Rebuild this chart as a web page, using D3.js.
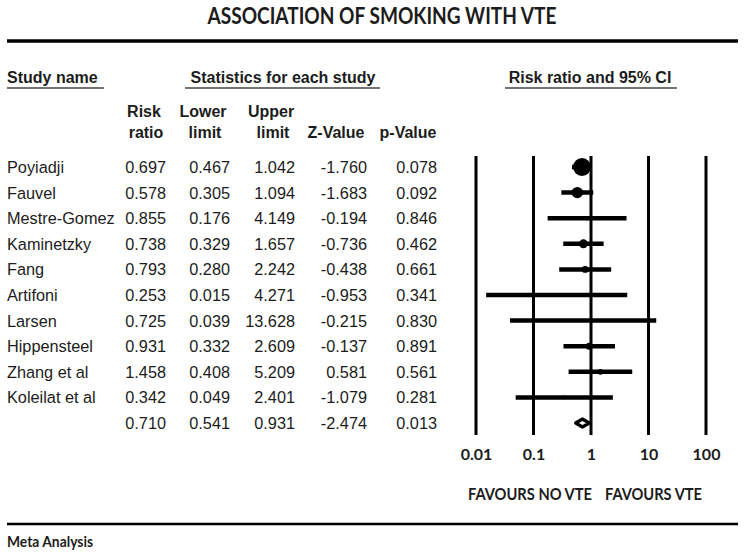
<!DOCTYPE html>
<html><head><meta charset="utf-8">
<script src="https://cdn.jsdelivr.net/npm/d3@7"></script>
<style>body{margin:0;background:#fff}svg{display:block}</style>
</head><body><svg id="c" width="748" height="556"></svg>
<script>
const studies = ["Poyiadji","Fauvel","Mestre-Gomez","Kaminetzky","Fang","Artifoni","Larsen","Hippensteel","Zhang et al","Koleilat et al",""];
const riskRatio = [0.697,0.578,0.855,0.738,0.793,0.253,0.725,0.931,1.458,0.342,0.710];
const lowerLimit = [0.467,0.305,0.176,0.329,0.280,0.015,0.039,0.332,0.408,0.049,0.541];
const upperLimit = [1.042,1.094,4.149,1.657,2.242,4.271,13.628,2.609,5.209,2.401,0.931];
const zValue = [-1.760,-1.683,-0.194,-0.736,-0.438,-0.953,-0.215,-0.137,0.581,-1.079,-2.474];
const pValue = [0.078,0.092,0.846,0.462,0.661,0.341,0.830,0.891,0.561,0.281,0.013];
const weights = [23.8,9.4,1.5,5.9,3.5,0.5,0.4,3.6,2.4,1.0];
const axisTicks = [0.01,0.1,1,10,100];
const axisTickLabels = ["0.01","0.1","1","10","100"];
const colHeaderTop = ["Risk","Lower","Upper","",""];
const colHeaderBottom = ["ratio","limit","limit","Z-Value","p-Value"];

const svg = d3.select("#c");
const ink = "#1c1c1c";
const headFont = "'Liberation Sans', Arial, sans-serif";
const calFont = "Lato, 'Open Sans', sans-serif";

// Title + rules
svg.append("text").attr("x",382).attr("y",24).attr("text-anchor","middle")
  .attr("font-family",calFont).attr("font-weight",700).attr("font-size",23)
  .attr("textLength",349).attr("lengthAdjust","spacingAndGlyphs")
  .attr("fill",ink).text("ASSOCIATION OF SMOKING WITH VTE");
svg.append("line").attr("x1",7).attr("x2",738).attr("y1",41).attr("y2",41)
  .attr("stroke","#000").attr("stroke-width",3.5);
svg.append("line").attr("x1",7).attr("x2",738).attr("y1",524).attr("y2",524)
  .attr("stroke","#000").attr("stroke-width",2.5);
svg.append("text").attr("x",7).attr("y",547)
  .attr("font-family",calFont).attr("font-weight",700).attr("font-size",15)
  .attr("textLength",86).attr("lengthAdjust","spacingAndGlyphs")
  .attr("fill",ink).text("Meta Analysis");

// Section headers
const sections = [
  {t:"Study name", x:7, anchor:"start", u:[7,104]},
  {t:"Statistics for each study", x:283, anchor:"middle", u:[185,380]},
  {t:"Risk ratio and 95% CI", x:590, anchor:"middle", u:[505,677]}
];
sections.forEach(s=>{
  svg.append("text").attr("x",s.x).attr("y",83).attr("text-anchor",s.anchor)
    .attr("font-family",headFont).attr("font-weight",700).attr("font-size",16)
    .attr("fill",ink).text(s.t);
  svg.append("line").attr("x1",s.u[0]).attr("x2",s.u[1]).attr("y1",88).attr("y2",88)
    .attr("stroke","#444").attr("stroke-width",1.5);
});

// Column headers
const colRight = [166,230,295,367,437];
const colCenter = [144,203,271,336,408];
colHeaderTop.forEach((t,i)=>{
  if(!t) return;
  svg.append("text").attr("x",colCenter[i]).attr("y",117).attr("text-anchor","middle")
    .attr("font-family",headFont).attr("font-weight",700).attr("font-size",16)
    .attr("fill",ink).text(t);
});
colHeaderBottom.forEach((t,i)=>{
  svg.append("text").attr("x",colCenter[i]+(i<3?2:0)).attr("y",138).attr("text-anchor","middle")
    .attr("font-family",headFont).attr("font-weight",700).attr("font-size",16)
    .attr("fill",ink).text(t);
});

// Rows
const y = d3.scalePoint().domain(d3.range(studies.length)).range([167,423]);
const f3 = v => d3.format(".3f")(v).replace("\u2212","-");
const rows = studies.map((s,i)=>({name:s, vals:[riskRatio[i],lowerLimit[i],upperLimit[i],zValue[i],pValue[i]], i}));
const rowG = svg.append("g").attr("font-family",headFont).attr("font-size",16.3).attr("fill",ink);
rows.forEach(r=>{
  rowG.append("text").attr("x",7).attr("y",y(r.i)+6).text(r.name);
  r.vals.forEach((v,j)=>{
    rowG.append("text").attr("x",colRight[j]).attr("y",y(r.i)+6).attr("text-anchor","end")
      .text(f3(v));
  });
});

// Forest plot
const x = d3.scaleLog().domain([0.01,100]).range([476,706]);
const plot = svg.append("g");
plot.selectAll("line.v").data(axisTicks).join("line").attr("class","v")
  .attr("x1",d=>x(d)).attr("x2",d=>x(d)).attr("y1",156).attr("y2",435)
  .attr("stroke","#000").attr("stroke-width",3);

const r = d3.scaleSqrt().domain([0,d3.max(weights)]).range([0,9]);
const studyRows = rows.slice(0,10);
plot.selectAll("line.ci").data(studyRows).join("line").attr("class","ci")
  .attr("x1",d=>x(lowerLimit[d.i])).attr("x2",d=>x(upperLimit[d.i]))
  .attr("y1",d=>y(d.i)).attr("y2",d=>y(d.i))
  .attr("stroke","#000").attr("stroke-width",4.5);
plot.selectAll("circle.pt").data(studyRows).join("circle").attr("class","pt")
  .attr("cx",d=>x(riskRatio[d.i])).attr("cy",d=>y(d.i))
  .attr("r",d=>r(weights[d.i])).attr("fill","#000");

// Summary diamond
const si = studies.length-1, sy = y(si);
plot.append("path")
  .attr("d",`M${x(lowerLimit[si])},${sy}L${x(riskRatio[si])},${sy-4}L${x(upperLimit[si])},${sy}L${x(riskRatio[si])},${sy+4}Z`)
  .attr("fill","#fff").attr("stroke","#000").attr("stroke-width",3.2).attr("stroke-linejoin","round");

// Axis labels
const axis = d3.axisBottom(x).tickValues(axisTicks)
  .tickFormat((d,i)=>axisTickLabels[i]).tickSize(0).tickPadding(13.5);
const ag = svg.append("g").attr("transform","translate(0,435)").call(axis);
ag.select(".domain").remove();
ag.selectAll("text").attr("font-family",calFont).attr("font-weight",700)
  .attr("font-size",16).attr("fill",ink);

// Favours labels
[{t:"FAVOURS NO VTE", x:530, w:124},{t:"FAVOURS VTE", x:653.5, w:97}].forEach(d=>{
  svg.append("text").attr("x",d.x).attr("y",500).attr("text-anchor","middle")
    .attr("font-family",calFont).attr("font-weight",700).attr("font-size",17)
    .attr("textLength",d.w).attr("lengthAdjust","spacingAndGlyphs")
    .attr("fill",ink).text(d.t);
});
</script></body></html>
